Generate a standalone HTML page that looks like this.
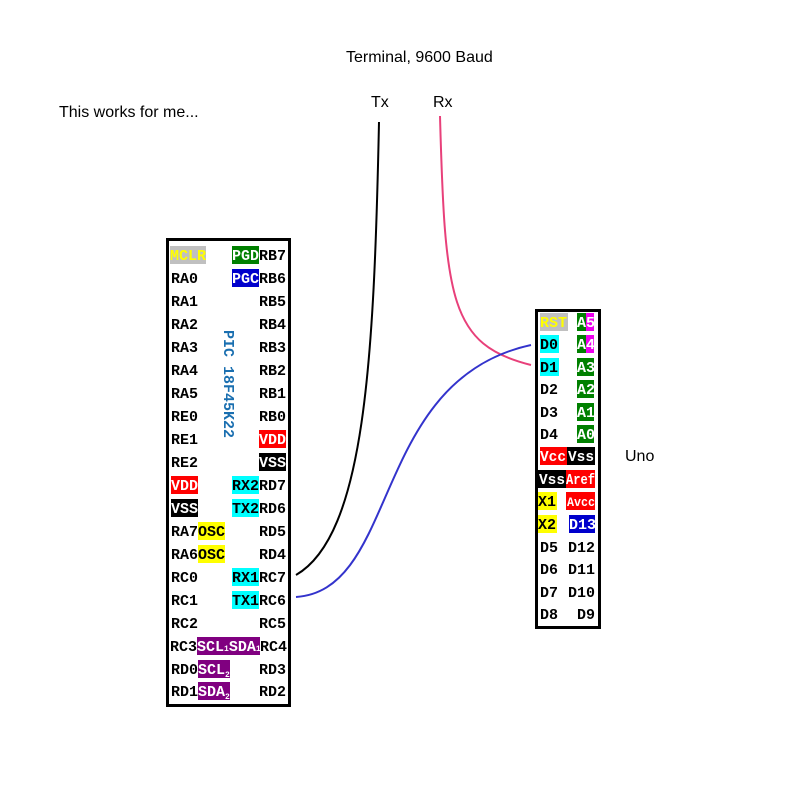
<!DOCTYPE html>
<html><head><style>body{margin:0;background:#fff}svg{display:block}
.m{font-family:"Liberation Mono",monospace;font-weight:bold;font-size:15px}
.s{font-family:"Liberation Sans",sans-serif;font-size:16px}</style></head>
<body>
<svg width="800" height="800" xmlns="http://www.w3.org/2000/svg">
<text class="s" x="346" y="62">Terminal, 9600 Baud</text>
<text class="s" x="59" y="117">This works for me...</text>
<text class="s" x="371" y="107">Tx</text>
<text class="s" x="433" y="107">Rx</text>
<text class="s" x="625" y="461">Uno</text>
<path d="M379,122 C374,360 365,535 296,575" fill="none" stroke="#000" stroke-width="2"/>
<path d="M440,116 C445,300 450,345 531,365" fill="none" stroke="#e8407a" stroke-width="2"/>
<path d="M296,597 C400,590 370,380 531,345" fill="none" stroke="#3333cc" stroke-width="2"/>
<rect x="167.5" y="239.5" width="122" height="466" fill="none" stroke="#000" stroke-width="3"/>
<rect x="536.5" y="310.5" width="63" height="317" fill="none" stroke="#000" stroke-width="3"/>
<g class="m">
<rect x="170" y="246" width="36" height="18" fill="#c0c0c0"/><text x="170" y="260" fill="#ff0">MCLR</text>
<rect x="232" y="246" width="27" height="18" fill="#008000"/><text x="232" y="260" fill="#fff">PGD</text><text x="259" y="260">RB7</text>
<text x="171" y="283">RA0</text><rect x="232" y="269" width="27" height="18" fill="#00c"/><text x="232" y="283" fill="#fff">PGC</text><text x="259" y="283">RB6</text>
<text x="171" y="306">RA1</text><text x="259" y="306">RB5</text>
<text x="171" y="329">RA2</text><text x="259" y="329">RB4</text>
<text x="171" y="352">RA3</text><text x="259" y="352">RB3</text>
<text x="171" y="375">RA4</text><text x="259" y="375">RB2</text>
<text x="171" y="398">RA5</text><text x="259" y="398">RB1</text>
<text x="171" y="421">RE0</text><text x="259" y="421">RB0</text>
<text x="171" y="444">RE1</text><rect x="259" y="430" width="27" height="18" fill="#f00"/><text x="259" y="444" fill="#fff">VDD</text>
<text x="171" y="467">RE2</text><rect x="259" y="453" width="27" height="18" fill="#000"/><text x="259" y="467" fill="#fff">VSS</text>
<rect x="171" y="476" width="27" height="18" fill="#f00"/><text x="171" y="490" fill="#fff">VDD</text><rect x="232" y="476" width="27" height="18" fill="#0ff"/><text x="232" y="490">RX2</text><text x="259" y="490">RD7</text>
<rect x="171" y="499" width="27" height="18" fill="#000"/><text x="171" y="513" fill="#fff">VSS</text><rect x="232" y="499" width="27" height="18" fill="#0ff"/><text x="232" y="513">TX2</text><text x="259" y="513">RD6</text>
<text x="171" y="536">RA7</text><rect x="198" y="522" width="27" height="18" fill="#ff0"/><text x="198" y="536">OSC</text><text x="259" y="536">RD5</text>
<text x="171" y="559">RA6</text><rect x="198" y="545" width="27" height="18" fill="#ff0"/><text x="198" y="559">OSC</text><text x="259" y="559">RD4</text>
<text x="171" y="582">RC0</text><rect x="232" y="568" width="27" height="18" fill="#0ff"/><text x="232" y="582">RX1</text><text x="259" y="582">RC7</text>
<text x="171" y="605">RC1</text><rect x="232" y="591" width="27" height="18" fill="#0ff"/><text x="232" y="605">TX1</text><text x="259" y="605">RC6</text>
<text x="171" y="628">RC2</text><text x="259" y="628">RC5</text>
<text x="170" y="651">RC3</text><rect x="197" y="637" width="63" height="18" fill="#800080"/><text x="197" y="651" fill="#fff">SCL<tspan font-size="8">1</tspan>SDA<tspan font-size="8">1</tspan></text><text x="260" y="651">RC4</text>
<text x="171" y="674">RD0</text><rect x="198" y="660" width="32" height="18" fill="#800080"/><text x="198" y="674" fill="#fff">SCL<tspan font-size="8" dy="3">2</tspan></text><text x="259" y="674">RD3</text>
<text x="171" y="696">RD1</text><rect x="198" y="682" width="32" height="18" fill="#800080"/><text x="198" y="696" fill="#fff">SDA<tspan font-size="8" dy="3">2</tspan></text><text x="259" y="696">RD2</text>
<text x="0" y="0" fill="#1a6fb0" transform="translate(224,330) rotate(90)">PIC 18F45K22</text>
</g>
<g class="m" font-size="14">
<rect x="540" y="313" width="28" height="18" fill="#c0c0c0"/><text x="540" y="327" fill="#ff0">RST</text>
<rect x="577" y="313" width="11" height="18" fill="#008000"/><rect x="586" y="313" width="8" height="18" fill="#e0e"/><text x="577" y="327" fill="#fff">A5</text>
<rect x="540" y="335" width="19" height="18" fill="#0ff"/><text x="540" y="349">D0</text>
<rect x="577" y="335" width="11" height="18" fill="#008000"/><rect x="586" y="335" width="8" height="18" fill="#e0e"/><text x="577" y="349" fill="#fff">A4</text>
<rect x="540" y="358" width="19" height="18" fill="#0ff"/><text x="540" y="372">D1</text>
<rect x="577" y="358" width="17" height="18" fill="#008000"/><text x="577" y="372" fill="#fff">A3</text>
<text x="540" y="394">D2</text><rect x="577" y="380" width="17" height="18" fill="#008000"/><text x="577" y="394" fill="#fff">A2</text>
<text x="540" y="417">D3</text><rect x="577" y="403" width="17" height="18" fill="#008000"/><text x="577" y="417" fill="#fff">A1</text>
<text x="540" y="439">D4</text><rect x="577" y="425" width="17" height="18" fill="#008000"/><text x="577" y="439" fill="#fff">A0</text>
<rect x="540" y="447" width="27" height="18" fill="#f00"/><text x="540" y="461" fill="#fff" textLength="26" lengthAdjust="spacingAndGlyphs">Vcc</text><rect x="567" y="447" width="28" height="18" fill="#000"/><text x="568" y="461" fill="#fff" textLength="26" lengthAdjust="spacingAndGlyphs">Vss</text>
<rect x="538" y="470" width="28" height="18" fill="#000"/><text x="539" y="484" fill="#fff" textLength="26" lengthAdjust="spacingAndGlyphs">Vss</text><rect x="566" y="470" width="29" height="18" fill="#f00"/><text x="566" y="484" fill="#fff" textLength="29" lengthAdjust="spacingAndGlyphs">Aref</text>
<rect x="538" y="492" width="19" height="18" fill="#ff0"/><text x="538" y="506">X1</text><rect x="566" y="492" width="29" height="18" fill="#f00"/><text x="567" y="506" fill="#fff" font-size="13" textLength="28" lengthAdjust="spacingAndGlyphs">Avcc</text>
<rect x="538" y="515" width="19" height="18" fill="#ff0"/><text x="538" y="529">X2</text><rect x="569" y="515" width="26" height="18" fill="#00c"/><text x="569" y="529" fill="#fff">D13</text>
<text x="540" y="552">D5</text><text x="568" y="552">D12</text>
<text x="540" y="574">D6</text><text x="568" y="574">D11</text>
<text x="540" y="597">D7</text><text x="568" y="597">D10</text>
<text x="540" y="619">D8</text><text x="577" y="619">D9</text>
</g>
</svg>
</body></html>
